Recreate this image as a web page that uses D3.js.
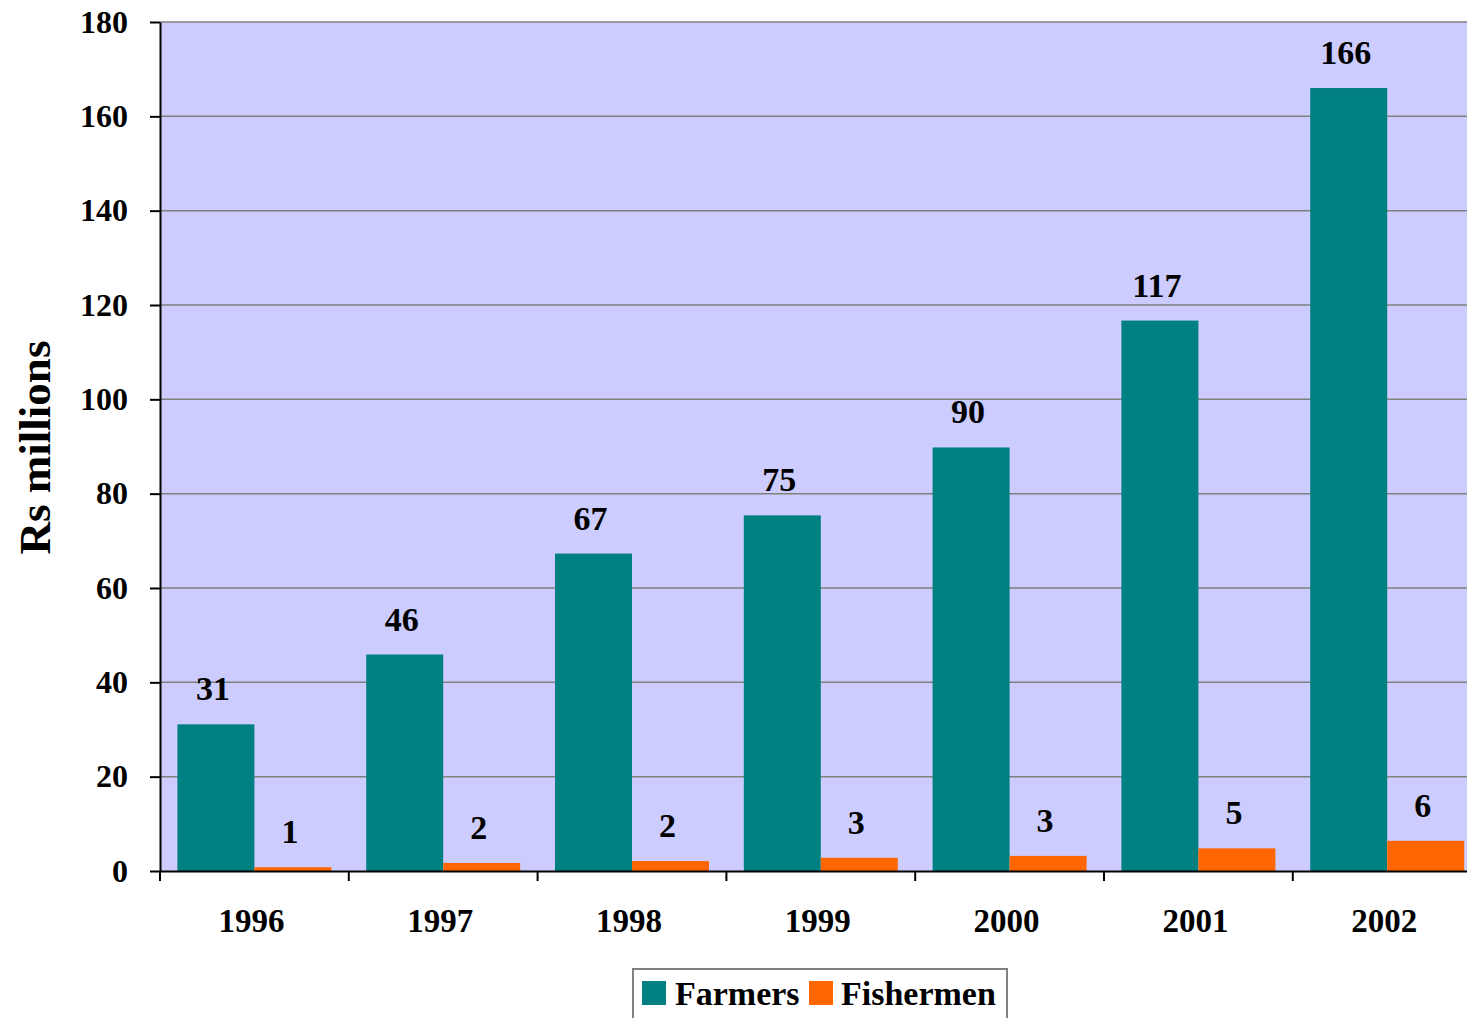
<!DOCTYPE html>
<html>
<head>
<meta charset="utf-8">
<script src="https://cdn.jsdelivr.net/npm/d3@7"></script>
<style>
  html, body { margin: 0; padding: 0; background: #ffffff; overflow: hidden; }
  svg { display: block; }
  text { font-family: "Liberation Serif", "Times New Roman", serif; font-weight: bold; fill: #000; }
</style>
</head>
<body>
<svg id="chart" width="1467" height="1018"></svg>
<script>
const years = ["1996", "1997", "1998", "1999", "2000", "2001", "2002"];
const seriesNames = ["Farmers", "Fishermen"];
const farmers = [31.1, 45.9, 67.3, 75.4, 89.8, 116.7, 166.0];
const fishermen = [0.8, 1.7, 2.1, 2.8, 3.2, 4.8, 6.4];
const yTicks = [0, 20, 40, 60, 80, 100, 120, 140, 160, 180];
const colors = ["#008080", "#FF6600"];

const svg = d3.select("#chart");
const plotL = 160, plotR = 1481.6, plotT = 22, plotB = 871;

const x0 = d3.scaleBand().domain(years).range([plotL, plotR]).padding(0);
const x1 = d3.scaleBand().domain(seriesNames).range([0, x0.bandwidth()]).paddingInner(0).paddingOuter(0.226);
const y = d3.scaleLinear().domain([0, 180]).range([plotB, plotT]);
const color = d3.scaleOrdinal().domain(seriesNames).range(colors);

// plot background
svg.append("rect").attr("x", plotL).attr("y", plotT).attr("width", plotR - plotL).attr("height", plotB - plotT)
  .attr("fill", "#CCCCFF");

// gridlines
svg.append("g").selectAll("line").data(yTicks.filter(d => d > 0)).join("line")
  .attr("x1", plotL).attr("x2", plotR)
  .attr("y1", d => y(d)).attr("y2", d => y(d))
  .attr("stroke", "#808080").attr("stroke-width", 1.5);

const data = years.map((yr, i) => ({ year: yr, values: [
  { key: "Farmers", value: farmers[i] },
  { key: "Fishermen", value: fishermen[i] }
]}));

const groups = svg.append("g").selectAll("g").data(data).join("g")
  .attr("transform", d => `translate(${x0(d.year)},0)`);

groups.selectAll("rect").data(d => d.values).join("rect")
  .attr("x", d => x1(d.key))
  .attr("width", x1.bandwidth())
  .attr("y", d => y(d.value))
  .attr("height", d => y(0) - y(d.value))
  .attr("fill", d => color(d.key));

groups.selectAll("text.lbl").data(d => d.values).join("text")
  .attr("class", "lbl")
  .attr("x", d => x1(d.key) + x1.bandwidth() / 2 - 3)
  .attr("y", d => y(d.value) - 24)
  .attr("text-anchor", "middle")
  .style("font-size", "34px")
  .text(d => d3.format(".0f")(d.value));

// Y axis
const yAxis = d3.axisLeft(y).tickValues(yTicks).tickSize(10).tickPadding(22).tickSizeOuter(0);
const gy = svg.append("g").attr("transform", `translate(${plotL},0)`).call(yAxis);
gy.select(".domain").attr("stroke", "#000").attr("stroke-width", 2);
gy.selectAll(".tick line").attr("stroke", "#000").attr("stroke-width", 2);
gy.selectAll(".tick text").style("font-size", "32px").style("font-family", "Liberation Serif").style("font-weight", "bold").attr("fill", "#000");

// X axis
const xAxis = d3.axisBottom(x0).tickSize(0).tickPadding(38).tickSizeOuter(0);
const gx = svg.append("g").attr("transform", `translate(0,${plotB})`).call(xAxis);
gx.select(".domain").attr("stroke", "#000").attr("stroke-width", 2);
gx.selectAll(".tick text").attr("dx", -3).style("font-size", "33px").style("font-family", "Liberation Serif").style("font-weight", "bold").attr("fill", "#000");
// category separator ticks
svg.append("g").selectAll("line").data(years).join("line")
  .attr("x1", d => x0(d)).attr("x2", d => x0(d))
  .attr("y1", plotB).attr("y2", plotB + 10)
  .attr("stroke", "#000").attr("stroke-width", 2);

// Y title
svg.append("text")
  .attr("transform", `translate(50,${(342 + 553) / 2}) rotate(-90)`)
  .attr("text-anchor", "middle")
  .style("font-size", "45px")
  .text("Rs millions");

// Legend
const lg = svg.append("g");
lg.append("rect").attr("x", 633).attr("y", 969).attr("width", 374).attr("height", 60)
  .attr("fill", "#fff").attr("stroke", "#808080").attr("stroke-width", 2);
const legendItems = [
  { key: "Farmers", sx: 642, tx: 675 },
  { key: "Fishermen", sx: 809, tx: 841 }
];
lg.selectAll("rect.sw").data(legendItems).join("rect").attr("class", "sw")
  .attr("x", d => d.sx).attr("y", 981).attr("width", 24).attr("height", 24)
  .attr("fill", d => color(d.key));
lg.selectAll("text").data(legendItems).join("text")
  .attr("x", d => d.tx).attr("y", 1005)
  .style("font-size", "34px")
  .text(d => d.key);
</script>
</body>
</html>
